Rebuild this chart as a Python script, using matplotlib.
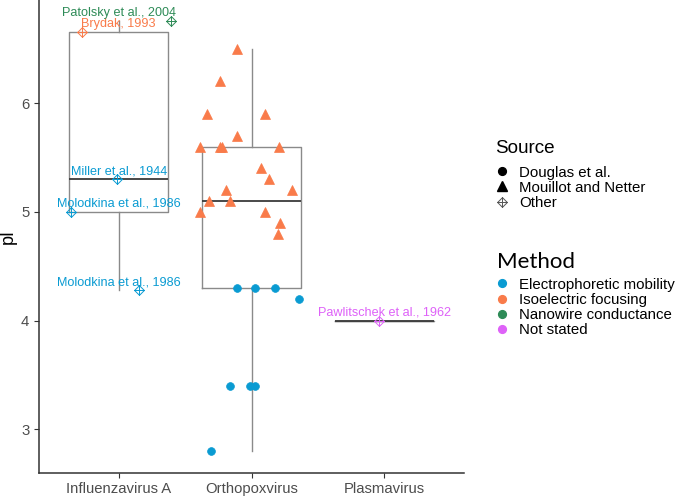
import matplotlib
matplotlib.use("Agg")
import matplotlib.pyplot as plt
import numpy as np
from matplotlib.path import Path
from matplotlib.lines import Line2D

# ---------------- data ----------------
categories = ["Influenzavirus A", "Orthopoxvirus", "Plasmavirus"]

virus = (["Influenzavirus A"] * 5 + ["Orthopoxvirus"] * 8 + ["Orthopoxvirus"] * 19
         + ["Plasmavirus"])
pI = [6.65, 6.75, 5.3, 5.0, 4.28,
      4.3, 4.3, 4.3, 4.2, 3.4, 3.4, 3.4, 2.8,
      6.5, 6.2, 5.9, 5.9, 5.7, 5.6, 5.6, 5.6, 5.6, 5.4, 5.3, 5.2, 5.2, 5.1, 5.1,
      5.0, 5.0, 4.9, 4.8,
      4.0]
source = (["Other"] * 5 + ["Douglas et al."] * 8 + ["Mouillot and Netter"] * 19
          + ["Other"])
method = (["Isoelectric focusing", "Nanowire conductance", "Electrophoretic mobility",
           "Electrophoretic mobility", "Electrophoretic mobility"]
          + ["Electrophoretic mobility"] * 8 + ["Isoelectric focusing"] * 19
          + ["Not stated"])
label = (["Brydak, 1993", "Patolsky et al., 2004", "Miller et al., 1944",
          "Molodkina et al., 1986", "Molodkina et al., 1986"]
         + [""] * 27 + ["Pawlitschek et al., 1962"])
# horizontal jitter (category units)
jitter = [-0.277, 0.395, -0.01, -0.36, 0.15,
          -0.11, 0.03, 0.18, 0.36, -0.165, -0.015, 0.025, -0.306,
          -0.11, -0.24, -0.333, 0.098, -0.11, -0.386, -0.24, -0.22, 0.21, 0.068,
          0.135, 0.306, -0.195, -0.32, -0.165, -0.39, 0.105, 0.216, 0.2,
          -0.04]

sources = ["Douglas et al.", "Mouillot and Netter", "Other"]
methods = ["Electrophoretic mobility", "Isoelectric focusing",
           "Nanowire conductance", "Not stated"]
method_colors = {"Electrophoretic mobility": "#0A9BD2",
                 "Isoelectric focusing": "#F97B4A",
                 "Nanowire conductance": "#2E8B57",
                 "Not stated": "#DE62F8"}

# ---------------- styling helpers ----------------
other_marker = Path([(0, 1), (1, 0), (0, -1), (-1, 0), (0, 1),
                     (0, 1), (0, -1), (-1, 0), (1, 0)],
                    [Path.MOVETO, Path.LINETO, Path.LINETO, Path.LINETO, Path.LINETO,
                     Path.MOVETO, Path.LINETO, Path.MOVETO, Path.LINETO])
shape_of = {"Douglas et al.": dict(marker="o", ms=5.6),
            "Mouillot and Netter": dict(marker="^", ms=7.8),
            "Other": dict(marker=other_marker, ms=7.0)}

FONT = "Liberation Sans"
plt.rcParams["font.family"] = [FONT, "DejaVu Sans"]

fig = plt.figure(figsize=(6.75, 5.0), dpi=100)
ax = fig.add_axes([39 / 675, (500 - 472.7) / 500, (464 - 39) / 675, 472.7 / 500])

pos = {c: i + 1 for i, c in enumerate(categories)}
pI = np.array(pI)

# boxplots
data_by_cat = [pI[[v == c for v in virus]] for c in categories]
ax.boxplot(data_by_cat, positions=[1, 2, 3], widths=0.75, whis=1.5,
           showcaps=False, showfliers=False, patch_artist=False,
           boxprops=dict(color="#8a8a8a", lw=1.0),
           whiskerprops=dict(color="#8a8a8a", lw=1.0),
           medianprops=dict(color="#3a3a3a", lw=1.3), zorder=1)

# points
for v, y, s, m, j in zip(virus, pI, source, method, jitter):
    st = shape_of[s]
    col = method_colors[m]
    if s == "Other":
        ax.plot(pos[v] + j, y, linestyle="none", marker=st["marker"], ms=st["ms"],
                mfc="none", mec=col, mew=0.7, zorder=3)
    else:
        ax.plot(pos[v] + j, y, linestyle="none", marker=st["marker"], ms=st["ms"],
                mfc=col, mec=col, mew=0.5, zorder=3)

# text labels
for v, y, m, lab in zip(virus, pI, method, label):
    if lab:
        ax.text(pos[v], y + 0.075, lab, color=method_colors[m], fontsize=9.1,
                ha="center", va="center", zorder=4)

# axes
ax.set_xlim(0.4, 3.6)
ax.set_ylim(2.6025, 6.9475)
ax.set_xticks([1, 2, 3])
ax.set_xticklabels(categories)
ax.set_yticks([3, 4, 5, 6])
ax.tick_params(axis="both", labelsize=10.7, labelcolor="#4d4d4d", color="#333333",
               length=3.5, width=0.8)
for sp in ["top", "right"]:
    ax.spines[sp].set_visible(False)
for sp in ["left", "bottom"]:
    ax.spines[sp].set_color("#333333")
    ax.spines[sp].set_linewidth(1.1)
ax.set_ylabel("pI", fontsize=13, labelpad=3)

# legends (titles drawn as separate texts for exact spacing)
W, H = 675.0, 500.0
src_handles = []
for s in sources:
    st = shape_of[s]
    if s == "Other":
        src_handles.append(Line2D([], [], linestyle="none", marker=st["marker"],
                                  ms=7.0, mfc="none", mec="#555555", mew=0.7))
    else:
        src_handles.append(Line2D([], [], linestyle="none", marker=st["marker"],
                                  ms=5.6 if s == "Douglas et al." else 7.0,
                                  mfc="black", mec="black"))
fig.legend(src_handles, sources, loc="center left",
           bbox_to_anchor=(490 / W, 1 - 187.7 / H), frameon=False,
           fontsize=10.8, labelspacing=0.08, handletextpad=0.53,
           handlelength=1.2, borderpad=0.2, borderaxespad=0.0)
fig.text(495 / W, 1 - 153 / H, "Source", fontsize=13.6, va="baseline", ha="left",
         color="black")

met_handles = [Line2D([], [], linestyle="none", marker="o", ms=5.6,
                      mfc=method_colors[m], mec=method_colors[m]) for m in methods]
fig.legend(met_handles, methods, loc="center left",
           bbox_to_anchor=(490 / W, 1 - 307.5 / H), frameon=False,
           fontsize=10.8, labelspacing=0.08, handletextpad=0.53,
           handlelength=1.2, borderpad=0.2, borderaxespad=0.0)
fig.text(497 / W, 1 - 268.3 / H, "Method", fontsize=16, va="baseline", ha="left",
         color="black", family=["Lato", "DejaVu Sans"])

fig.savefig("out.png", dpi=100)
